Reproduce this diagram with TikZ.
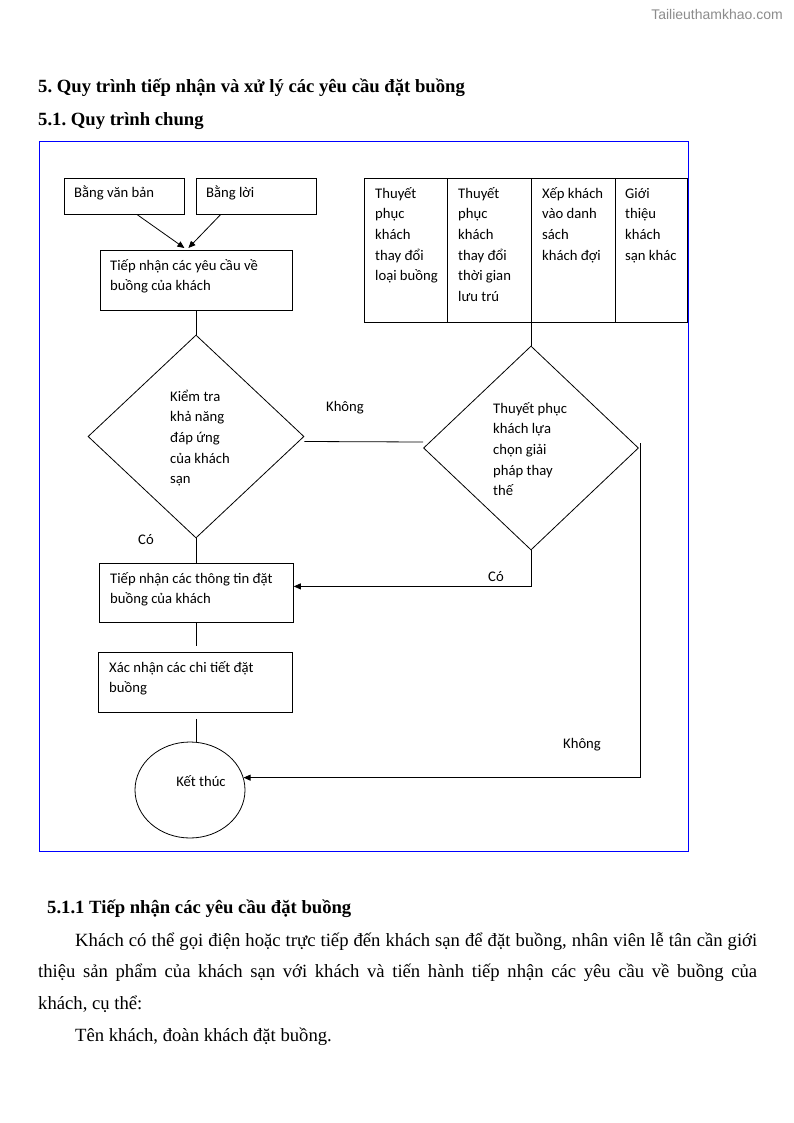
\documentclass[tikz,border=0pt]{standalone}
\usepackage{fontspec}
\setmainfont{Liberation Serif}
\newfontfamily\calfont{Carlito}
\newfontfamily\wmfont{Liberation Sans}
\usetikzlibrary{shapes.geometric,arrows.meta,calc}
\frenchspacing
\begin{document}
\begin{tikzpicture}[x=1pt,y=-1pt,
  box/.style={draw=black,line width=0.8pt,inner sep=0pt,anchor=north west},
  ln/.style={line width=0.8pt},
  arr/.style={line width=0.8pt,-{Triangle[length=7pt,width=6pt]}},
  dtxt/.style={font=\calfont\fontsize{14.67}{20.7}\selectfont,align=left,inner sep=0pt,anchor=base west},
  lbl/.style={font=\calfont\fontsize{14.67}{16}\selectfont,inner sep=0pt},
  hd/.style={font=\bfseries\fontsize{18.67}{22}\selectfont,inner sep=0pt,anchor=base west},
  body/.style={font=\fontsize{18.67}{22}\selectfont,inner sep=0pt,anchor=base west}]
\useasboundingbox[fill=white] (0,0) rectangle (794,1123);

% watermark
\node[font=\wmfont\fontsize{14}{16}\selectfont,text=black!45,inner sep=0pt] (wm) at (717,15) {Tailieuthamkhao.com};

% headings
\node[hd] (h1) at (38,93) {5. Quy trình tiếp nhận và xử lý các yêu cầu đặt buồng};
\node[hd] (h2) at (38,126) {5.1. Quy trình chung};

% frame
\draw[blue,line width=0.9pt] (39,141) rectangle (688,851);

% top boxes (text nodes: anchor at baseline of last line)
\node[box,minimum width=120pt,minimum height=36pt] (b1) at (64,178) {};
\node[dtxt] (b1t) at ($(b1.north west)+(10,20)$) {Bằng văn bản};
\node[box,minimum width=120pt,minimum height=36pt] (b2) at (196,178) {};
\node[dtxt] (b2t) at ($(b2.north west)+(10,20)$) {Bằng lời};

\node[box,minimum width=192pt,minimum height=60pt] (b3) at (100,250) {};
\node[dtxt] (b3t) at ($(b3.north west)+(10,40.7)$) {Tiếp nhận các yêu cầu về\\buồng của khách};

% table of alternatives
\node[box,minimum width=83pt,minimum height=144pt] (t1) at (364,178) {};
\node[box,minimum width=84pt,minimum height=144pt] (t2) at (447,178) {};
\node[box,minimum width=84pt,minimum height=144pt] (t3) at (531,178) {};
\node[box,minimum width=72pt,minimum height=144pt] (t4) at (615,178) {};
\node[dtxt] (t1t) at ($(t1.north west)+(11,102.8)$) {Thuyết\\phục\\khách\\thay đổi\\loại buồng};
\node[dtxt] (t2t) at ($(t2.north west)+(11,123.5)$) {Thuyết\\phục\\khách\\thay đổi\\thời gian\\lưu trú};
\node[dtxt] (t3t) at ($(t3.north west)+(11,82.1)$) {Xếp khách\\vào danh\\sách\\khách đợi};
\node[dtxt] (t4t) at ($(t4.north west)+(10,82.1)$) {Giới\\thiệu\\khách\\sạn khác};

% diamonds
\node[draw,ln,diamond,minimum width=216pt,minimum height=203pt,inner sep=0pt] (d1) at (196,436.5) {};
\node[dtxt] (d1t) at (170,483.8) {Kiểm tra\\khả năng\\đáp ứng\\của khách\\sạn};
\node[draw,ln,diamond,minimum width=215pt,minimum height=204pt,inner sep=0pt] (d2) at (531,448) {};
\node[dtxt] (d2t) at (493,495.8) {Thuyết phục\\khách lựa\\chọn giải\\pháp thay\\thế};

% lower boxes
\node[box,minimum width=194pt,minimum height=59pt] (b4) at (99,563) {};
\node[dtxt] (b4t) at ($(b4.north west)+(11,40.7)$) {Tiếp nhận các thông tin đặt\\buồng của khách};
\node[box,minimum width=194pt,minimum height=60pt] (b5) at (98,652) {};
\node[dtxt] (b5t) at ($(b5.north west)+(11,40.7)$) {Xác nhận các chi tiết đặt\\buồng};

\node[draw,ln,ellipse,minimum width=110pt,minimum height=96pt,inner sep=0pt] (e) at (190,790) {};
\node[lbl] (et) at (201,781) {Kết thúc};

% labels
\node[lbl] (l1) at (345,408) {Không};
\node[lbl] (l2) at (146,540) {Có};
\node[lbl] (l3) at (496,577) {Có};
\node[lbl] (l4) at (582,745) {Không};

% connectors
\draw[arr] ([xshift=13pt]b1.south) -- ([xshift=-12pt,yshift=2pt]b3.north);
\draw[arr] ([xshift=-36pt]b2.south) -- ([xshift=-8pt,yshift=2pt]b3.north);
\draw[ln] (d1.north |- b3.south) -- (d1.north);
\draw[ln] ($(d1.east)+(0,5)$) -- ($(d2.west)+(0,-6)$);
\draw[ln] (t3.south west) -- (d2.north);
\draw[ln] (d1.south) -- (d1.south |- b4.north);
\draw[arr] (d2.south) |- ([yshift=6.5pt]b4.east);
\draw[ln] (d1.south |- b4.south) -- ($(d1.south |- b5.north)+(0,-6)$);
\draw[ln] ($(d1.south |- b5.south)+(0,6)$) -- (d1.south |- e.north);
\draw[arr] ($(d2.east)+(1,-5)$) |- (e.13);

% body text
\node[hd] (h3) at (47,913) {5.1.1 Tiếp nhận các yêu cầu đặt buồng};
\node[body] (p1) at (75,946) {\makebox[682pt][s]{Khách có thể gọi điện hoặc trực tiếp đến khách sạn để đặt buồng, nhân viên lễ tân cần giới}};
\node[body] (p2) at (38,977) {\makebox[719pt][s]{thiệu sản phẩm của khách sạn với khách và tiến hành tiếp nhận các yêu cầu về buồng của}};
\node[body] (p3) at (38,1009) {khách, cụ thể:};
\node[body] (p4) at (75,1041) {Tên khách, đoàn khách đặt buồng.};
\end{tikzpicture}
\end{document}
